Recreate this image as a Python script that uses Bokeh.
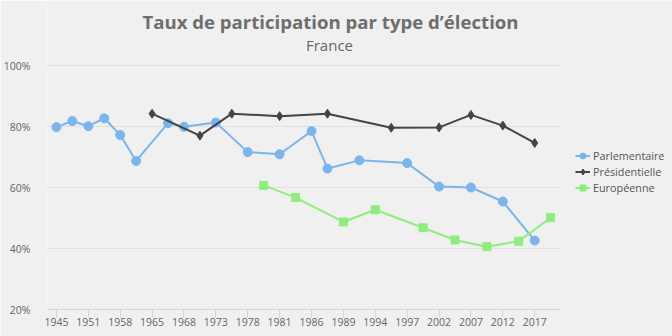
from bokeh.plotting import figure
from bokeh.models import Range1d, FixedTicker, Label, Legend, LegendItem
from bokeh.embed import file_html
from bokeh.resources import INLINE

# ---- data ----
tick_labels = ["1945", "1951", "1958", "1965", "1968", "1973", "1978", "1981",
               "1986", "1989", "1994", "1997", "2002", "2007", "2012", "2017"]

parl_x = [0, 0.5, 1, 1.5, 2, 2.5, 3.5, 4, 5, 6, 7, 8, 8.5, 9.5, 11, 12, 13, 14, 15]
parl_y = [79.8, 81.8, 80.1, 82.7, 77.2, 68.7, 81.1, 79.9, 81.3, 71.6, 70.9, 78.5,
          66.2, 68.9, 68.0, 60.3, 60.0, 55.4, 42.6]

pres_x = [3, 4.5, 5.5, 7, 8.5, 10.5, 12, 13, 14, 15]
pres_y = [84.2, 77.0, 84.2, 83.4, 84.2, 79.6, 79.7, 83.8, 80.3, 74.6]

euro_x = [6.5, 7.5, 9, 10, 11.5, 12.5, 13.5, 14.5, 15.5]
euro_y = [60.7, 56.7, 48.7, 52.7, 46.8, 42.8, 40.6, 42.4, 50.1]

y_ticks = [20, 40, 60, 80, 100]
y_labels = ["20%", "40%", "60%", "80%", "100%"]

title_text = "Taux de participation par type d\u2019élection"
subtitle_text = "France"
series_names = ["Parlementaire", "Présidentielle", "Européenne"]

# ---- layout constants ----
W, H = 672, 336
LEFT, BOTTOM = 43, 27            # borders (px)
PLOT_RIGHT_PX, PLOT_TOP_PX = 559, 65
X_LO, X_HI = -0.28, 15.8        # plotting area in data units
Y_LO, Y_HI = 20, 100
BG = "#f0f0f0"
FONT = "Open Sans"

px_per_x = (PLOT_RIGHT_PX - LEFT) / (X_HI - X_LO)
px_per_y = (H - BOTTOM - PLOT_TOP_PX) / (Y_HI - Y_LO)
x_end = X_LO + (W - LEFT) / px_per_x
y_end = Y_HI + PLOT_TOP_PX / px_per_y

p = figure(width=W, height=H, output_backend="svg", toolbar_location=None,
           x_range=Range1d(X_LO, x_end), y_range=Range1d(Y_LO, y_end),
           min_border_left=LEFT, min_border_right=0, min_border_top=0,
           min_border_bottom=BOTTOM, title=None)
p.background_fill_color = BG
p.border_fill_color = BG
p.outline_line_color = None

# axes
p.xaxis.ticker = FixedTicker(ticks=list(range(len(tick_labels))))
p.xaxis.major_label_overrides = {i: t for i, t in enumerate(tick_labels)}
p.xaxis.bounds = (X_LO, X_HI)
p.xaxis.axis_line_color = "#ccd6eb"
p.xaxis.major_tick_line_color = "#ccd6eb"
p.xaxis.major_tick_in = 0
p.xaxis.major_tick_out = 8
p.xaxis.minor_tick_line_color = None
p.xaxis.major_label_text_font = FONT
p.xaxis.major_label_text_font_size = "10.5px"
p.xaxis.major_label_text_color = "#666666"
p.xaxis.major_label_standoff = 0

p.yaxis.ticker = FixedTicker(ticks=y_ticks)
p.yaxis.major_label_overrides = {t: l for t, l in zip(y_ticks, y_labels)}
p.yaxis.axis_line_color = None
p.yaxis.major_tick_line_color = None
p.yaxis.minor_tick_line_color = None
p.yaxis.major_label_text_font = FONT
p.yaxis.major_label_text_font_size = "10.5px"
p.yaxis.major_label_text_color = "#666666"
p.yaxis.major_label_standoff = 11

p.xgrid.grid_line_color = None
p.ygrid.grid_line_color = None
# horizontal grid lines limited to the plotting area
p.segment(x0=[X_LO] * 4, x1=[X_HI] * 4, y0=y_ticks[1:], y1=y_ticks[1:],
          line_color="#e0e0e0", line_width=1)

# series
c_parl, c_pres, c_euro = "#7cb5ec", "#434348", "#90ed7d"
l1 = p.line(parl_x, parl_y, line_color=c_parl, line_width=2)
m1 = p.scatter(parl_x, parl_y, marker="circle", size=9, fill_color=c_parl, line_color=c_parl)
l2 = p.line(pres_x, pres_y, line_color=c_pres, line_width=2)
m2 = p.scatter(pres_x, pres_y, marker="diamond", size=9, fill_color=c_pres, line_color=c_pres)
l3 = p.line(euro_x, euro_y, line_color=c_euro, line_width=2)
m3 = p.scatter(euro_x, euro_y, marker="square", size=8, fill_color=c_euro, line_color=c_euro)

LEG_TOP_PX, LEG_H = 148, 47
legend = Legend(items=[LegendItem(label=series_names[0], renderers=[l1, m1]),
                       LegendItem(label=series_names[1], renderers=[l2, m2]),
                       LegendItem(label=series_names[2], renderers=[l3, m3])],
                location=(571 - LEFT, H - BOTTOM - LEG_TOP_PX - LEG_H))
legend.background_fill_alpha = 0
legend.border_line_alpha = 0
legend.padding = 0
legend.margin = 0
legend.spacing = 1
legend.glyph_width = 15
legend.glyph_height = 15
legend.label_height = 15
legend.label_standoff = 3
legend.label_text_font = FONT
legend.label_text_font_size = "10.8px"
legend.label_text_color = "#555555"
p.add_layout(legend, "center")

# titles (screen coordinates relative to the frame's bottom-left)
frame_bottom = H - BOTTOM
p.add_layout(Label(x=326 - LEFT, y=frame_bottom - 21, x_units="screen", y_units="screen",
                   text=title_text, text_align="center", text_baseline="alphabetic",
                   text_font=FONT, text_font_style="bold", text_font_size="18.6px",
                   text_color="#6e6e6e"))
p.add_layout(Label(x=325 - LEFT, y=frame_bottom - 44, x_units="screen", y_units="screen",
                   text=subtitle_text, text_align="center", text_baseline="alphabetic",
                   text_font=FONT, text_font_size="15px", text_color="#666666"))

open("out.html", "w").write(file_html(p, INLINE))
